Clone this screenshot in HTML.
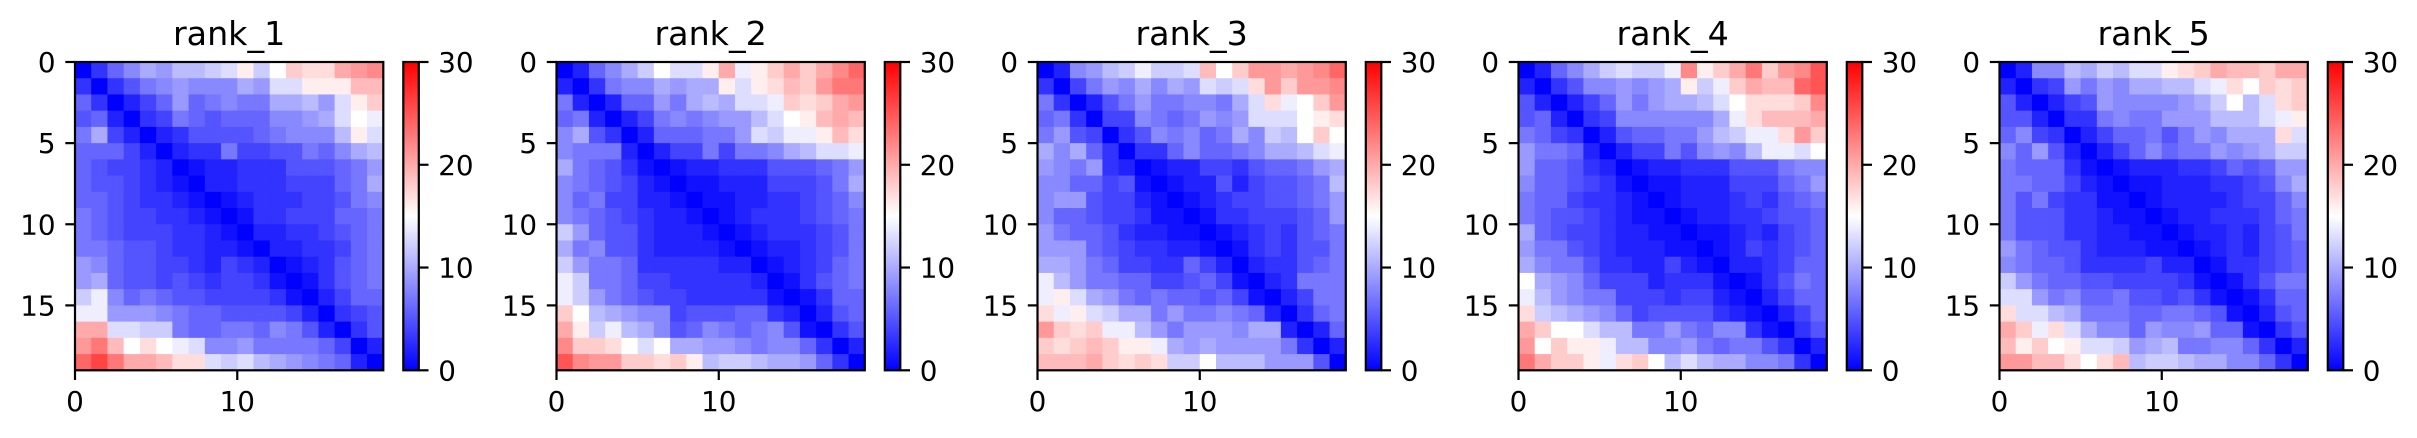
<!DOCTYPE html>
<html><head><meta charset="utf-8">
<style>
html,body{margin:0;padding:0;background:#fff;}
svg{display:block;font-family:"DejaVu Sans","Liberation Sans",sans-serif;}
</style></head>
<body>
<svg id="fig" width="2417" height="438" viewBox="0 0 2417 438" xmlns="http://www.w3.org/2000/svg">
<defs>
<linearGradient id="bwr" x1="0" y1="1" x2="0" y2="0">
<stop offset="0" stop-color="#0000ff"/><stop offset="0.5" stop-color="#ffffff"/><stop offset="1" stop-color="#ff0000"/>
</linearGradient>
</defs>
</svg>
<script>
const titles = ["rank_1","rank_2","rank_3","rank_4","rank_5"];
const vmin = 0, vmax = 30;
const xTicks = [0, 10];
const yTicks = [0, 5, 10, 15];
const cbTicks = [0, 10, 20, 30];
const rank1 = [
[0,3,6,8,10,9,11,11,12,13,16,12,15,18,17,17,20,21,22],
[3,0,3,5,7,8,9,8,8,8,10,9,13,13,16,16,16,19,19],
[6,3,0,2,4,6,9,6,7,8,7,7,10,10,11,9,13,16,18],
[5,6,2,0,3,4,7,6,5,6,6,6,8,8,9,10,13,15,14],
[7,10,4,2,0,2,3,5,5,5,5,6,7,8,8,8,11,16,13],
[6,6,6,4,2,0,2,3,3,7,4,4,5,5,7,6,8,10,11],
[6,5,4,4,3,2,0,1,2,2,3,3,3,5,5,5,6,7,9],
[6,5,5,4,3,2,1,0,2,2,3,3,3,4,4,4,6,7,10],
[6,6,5,4,3,3,2,1,0,1,2,3,3,3,4,4,5,7,8],
[7,6,5,4,4,3,3,2,1,0,1,3,3,4,4,4,6,6,7],
[7,6,5,4,4,4,3,3,2,1,0,2,2,3,3,4,5,6,7],
[7,7,6,5,5,4,3,3,2,2,1,0,2,2,3,3,4,6,7],
[9,8,6,5,5,4,4,3,2,4,3,2,0,1,2,3,5,6,7],
[9,10,6,5,5,4,5,4,3,4,4,3,1,0,1,3,5,6,7],
[12,14,8,6,7,6,5,5,4,4,4,4,3,1,0,2,4,6,6],
[14,14,9,9,9,8,7,6,6,5,5,5,5,4,2,0,3,4,5],
[20,20,13,13,12,12,7,6,6,7,7,6,8,7,5,2,0,3,5],
[21,23,19,15,17,15,14,13,8,8,9,7,7,7,7,6,4,0,2],
[24,26,23,20,20,19,17,17,13,12,13,11,10,9,8,7,6,2,0]];
const rank2 = [
[0,2,6,8,10,12,15,13,13,16,20,14,16,18,20,18,20,22,24],
[2,0,3,7,8,8,10,9,10,10,16,13,16,17,19,18,21,23,23],
[7,2,0,2,6,6,9,7,10,11,10,13,13,14,18,17,18,20,21],
[6,7,2,0,2,4,7,8,7,8,9,9,11,13,15,16,19,20,19],
[8,10,5,3,0,2,6,6,6,7,7,9,13,12,14,14,16,19,17],
[8,7,7,7,2,0,2,4,4,7,4,7,7,8,10,11,13,13,14],
[10,7,6,5,3,1,0,1,2,2,3,3,3,5,5,5,6,7,9],
[8,7,6,5,4,2,1,0,1,1,2,2,2,4,4,4,5,7,10],
[8,6,7,4,4,2,2,1,0,1,1,2,2,3,3,4,5,6,8],
[8,7,6,5,4,3,2,2,1,0,1,2,3,3,3,4,5,6,7],
[12,9,6,5,5,3,2,2,2,1,0,1,2,3,3,3,4,5,7],
[10,7,8,5,5,3,2,2,2,2,1,0,1,2,2,3,4,5,7],
[12,9,7,7,6,3,3,3,3,3,2,2,0,1,2,3,4,6,7],
[14,12,7,7,6,4,4,3,3,3,3,3,2,0,1,3,5,6,7],
[14,12,9,7,6,5,4,4,3,3,3,3,3,1,0,1,3,6,6],
[18,15,11,10,9,8,8,4,5,5,5,6,6,3,2,0,2,5,6],
[20,16,12,14,11,10,8,5,6,8,7,6,7,8,5,1,0,3,5],
[22,18,18,17,15,13,15,10,10,9,9,8,7,8,8,6,3,0,2],
[25,22,21,21,18,18,17,18,16,11,12,12,11,10,10,9,6,3,0]];
const rank3 = [
[0,2,8,9,11,12,14,12,12,13,19,15,18,21,21,20,21,22,24],
[3,0,4,7,9,8,10,8,10,9,13,12,13,17,21,18,21,21,22],
[7,3,0,2,5,7,9,7,7,8,8,7,10,13,17,14,15,18,21],
[6,7,3,0,4,4,8,7,6,7,9,8,9,13,13,13,15,16,17],
[7,9,5,4,0,3,5,8,7,8,6,7,10,8,12,11,15,18,15],
[10,8,10,6,3,0,3,3,6,8,6,6,7,8,10,10,11,13,14],
[9,8,7,9,3,2,0,1,2,2,4,4,3,5,6,6,7,9,10],
[8,8,6,6,4,5,1,0,1,2,2,5,2,4,5,5,6,7,11],
[8,9,9,5,4,4,2,1,0,1,2,3,4,4,5,5,6,7,9],
[8,6,6,5,4,4,3,1,1,0,1,3,3,4,4,4,5,6,9],
[9,7,6,6,5,3,2,2,1,1,0,1,2,3,4,3,5,6,7],
[9,9,9,6,5,4,3,3,2,2,1,0,1,3,4,3,5,5,7],
[10,10,9,7,6,4,4,3,3,6,4,2,0,2,3,3,5,6,7],
[14,11,9,7,7,6,6,4,4,5,6,4,1,0,2,3,7,7,7],
[14,16,13,10,9,7,6,7,6,6,5,6,4,1,0,2,4,7,7],
[17,14,16,13,12,10,10,7,9,7,7,8,7,6,2,0,3,6,7],
[21,18,17,18,14,14,11,9,7,9,9,9,8,10,10,2,0,2,6],
[18,17,18,19,18,16,16,14,10,9,10,9,9,9,9,7,3,0,2],
[19,19,19,20,18,17,18,17,12,12,15,11,11,11,9,9,9,5,0]];
const rank4 = [
[0,2,6,8,10,12,13,12,12,14,22,16,18,20,23,18,21,22,25],
[2,0,3,5,8,8,9,8,9,10,16,12,14,18,20,19,19,24,25],
[5,2,0,2,4,6,9,7,9,10,10,11,13,15,17,17,17,18,22],
[5,6,2,0,3,4,8,8,8,8,8,8,10,14,17,19,19,19,20],
[7,6,4,3,0,2,5,6,6,7,7,9,11,12,14,14,17,21,18],
[9,7,7,6,2,0,2,4,4,7,5,8,9,8,11,14,14,13,15],
[9,6,6,5,3,2,0,1,2,2,3,3,3,5,5,5,7,8,8],
[8,6,6,5,4,3,1,0,1,1,2,2,2,4,4,4,6,7,9],
[7,6,6,4,3,3,2,1,0,1,2,2,2,3,4,3,5,6,7],
[7,6,5,5,4,3,2,1,1,0,1,2,2,3,3,4,5,5,6],
[10,6,5,4,4,3,2,2,1,1,0,1,1,2,3,2,4,5,6],
[9,7,7,5,4,3,2,2,2,1,1,0,1,2,4,3,4,5,6],
[10,8,7,7,5,3,3,2,2,4,2,1,0,2,2,3,4,6,6],
[15,10,9,8,6,4,4,4,2,3,3,3,1,0,1,3,5,7,6],
[14,11,9,8,7,7,4,4,4,3,4,4,2,1,0,2,4,6,6],
[17,12,11,10,9,8,6,4,5,5,5,5,3,2,1,0,2,4,6],
[20,18,15,15,13,11,11,7,7,9,7,6,8,8,3,1,0,3,5],
[21,15,18,16,16,14,11,11,8,8,9,7,6,7,7,5,3,0,2],
[23,20,18,18,16,14,17,18,15,11,13,11,10,10,8,8,7,3,0]];
const rank5 = [
[0,2,8,8,11,10,12,11,13,13,16,17,18,20,19,19,18,20,20],
[2,0,3,4,9,7,9,8,10,10,11,11,13,14,17,15,18,17,18],
[5,2,0,2,4,5,9,8,8,8,8,9,10,12,15,11,13,17,18],
[5,5,2,0,3,3,7,8,7,7,9,9,9,11,11,11,13,14,16],
[6,8,4,3,0,2,4,6,6,7,5,7,9,8,10,10,10,17,13],
[8,6,9,5,2,0,2,4,6,8,6,7,7,9,8,9,10,12,12],
[7,6,6,6,3,1,0,1,2,2,2,3,3,4,6,5,6,9,9],
[7,7,6,6,4,2,1,0,1,1,2,2,2,3,3,4,5,8,10],
[7,5,7,4,3,3,1,1,0,1,2,2,2,2,3,4,4,6,8],
[7,5,5,5,3,3,2,1,1,0,1,2,2,3,3,3,4,6,7],
[7,5,5,5,3,3,2,2,1,1,0,1,2,2,3,2,4,5,7],
[9,7,6,5,5,3,2,2,2,1,1,0,1,2,3,2,4,5,6],
[8,7,6,6,5,3,3,3,3,4,2,2,0,1,3,3,4,5,6],
[12,9,7,6,6,5,5,4,4,4,4,3,1,0,1,3,5,7,7],
[13,13,9,7,8,6,6,7,5,5,4,5,3,1,0,1,3,6,6],
[17,13,13,11,10,7,7,7,6,6,7,7,6,5,1,0,2,5,6],
[20,18,14,17,13,10,8,8,6,9,8,8,9,6,6,1,0,3,5],
[19,16,18,15,16,13,13,12,9,10,11,7,7,8,8,6,3,0,2],
[21,21,19,19,17,15,17,19,11,12,12,11,10,10,8,8,6,3,0]];
const matrices = [rank1, rank2, rank3, rank4, rank5];

const NS = "http://www.w3.org/2000/svg";
const svg = document.getElementById("fig");
const panelLeft = [75, 556.5, 1037.5, 1518.5, 1999.5];
const axTop = 62, axSize = 308.3, tickLen = 9.7, fs = 27.8;
const cbGap = 20, cbW = 15.5;

function el(tag, attrs, parent) {
  const e = document.createElementNS(NS, tag);
  for (const k in attrs) e.setAttribute(k, attrs[k]);
  (parent || svg).appendChild(e);
  return e;
}
function bwr(v) {
  let t = (v - vmin) / (vmax - vmin);
  t = Math.max(0, Math.min(1, t));
  let r, g, b;
  if (t < 0.5) { r = g = 2 * t; b = 1; } else { r = 1; g = b = 2 * (1 - t); }
  return `rgb(${Math.round(r*255)},${Math.round(g*255)},${Math.round(b*255)})`;
}

matrices.forEach((M, p) => {
  const n = M.length;
  const x0 = panelLeft[p];
  const xScale = v => x0 + v * axSize / n;
  const yScale = v => axTop + v * axSize / n;
  const g = el("g", {});
  
  

  const t = el("text", {x: x0 + axSize / 2, y: 45, "text-anchor": "middle", "font-size": 33.3, fill: "#000"}, g);
  t.textContent = titles[p];
  
  

  for (let i = 0; i < n; i++) for (let j = 0; j < n; j++) {
    const c = el("rect", {x: xScale(j), y: yScale(i), width: axSize / n + 0.6, height: axSize / n + 0.6, fill: bwr(M[i][j])}, g);
    
    
  }
  const fr = el("rect", {x: x0, y: axTop, width: axSize, height: axSize, fill: "none", stroke: "#000", "stroke-width": 2.2}, g);
  
  

  yTicks.forEach(v => {
    const y = yScale(v);
    el("line", {x1: x0 - tickLen, x2: x0, y1: y, y2: y, stroke: "#000", "stroke-width": 2.2}, g);
    const l = el("text", {x: x0 - tickLen - 9.7, y: y + 10, "text-anchor": "end", "font-size": fs, fill: "#000"}, g);
    l.textContent = v;
    
    
  });
  xTicks.forEach(v => {
    const x = xScale(v);
    const yb = axTop + axSize;
    el("line", {x1: x, x2: x, y1: yb, y2: yb + tickLen, stroke: "#000", "stroke-width": 2.2}, g);
    const l = el("text", {x: x, y: yb + tickLen + 31, "text-anchor": "middle", "font-size": fs, fill: "#000"}, g);
    l.textContent = v;
    
    
  });

  const cx = x0 + axSize + cbGap;
  const cb = el("rect", {x: cx, y: axTop, width: cbW, height: axSize, fill: "url(#bwr)", stroke: "#000", "stroke-width": 2.2}, g);
  
  
  const cbScale = v => axTop + axSize - (v - vmin) / (vmax - vmin) * axSize;
  cbTicks.forEach(v => {
    const y = cbScale(v);
    el("line", {x1: cx + cbW, x2: cx + cbW + tickLen, y1: y, y2: y, stroke: "#000", "stroke-width": 2.2}, g);
    const l = el("text", {x: cx + cbW + tickLen + 9.7, y: y + 10, "text-anchor": "start", "font-size": fs, fill: "#000"}, g);
    l.textContent = v;
    
    
  });
});
</script>
</body></html>
